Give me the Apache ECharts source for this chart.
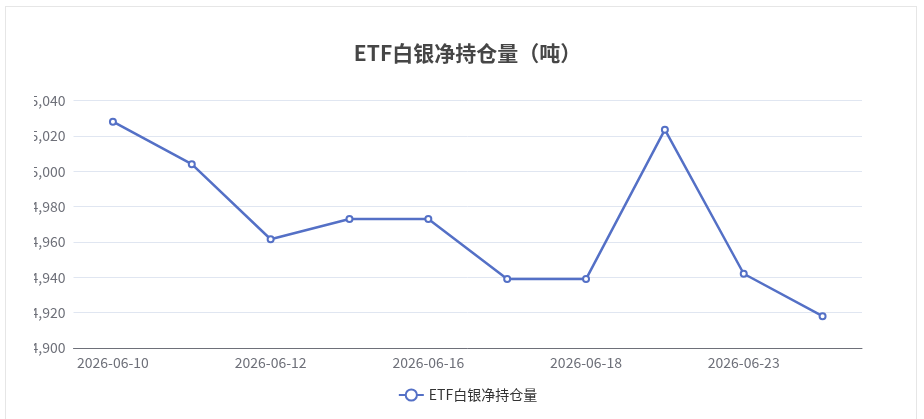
<!DOCTYPE html>
<html><head><meta charset="utf-8">
<script src="https://cdn.jsdelivr.net/npm/echarts@6/dist/echarts.min.js"></script>
<style>
html,body{margin:0;padding:0;background:#fff;overflow:hidden;}
#frame{position:absolute;left:5px;top:6px;width:910px;height:430px;border:1px solid #e6e6e6;overflow:hidden;}
#chart{position:absolute;left:28px;top:0px;width:867px;height:412px;}
</style></head>
<body>
<div id="frame"><div id="chart"></div></div>
<script>
const categories = ['2026-06-10','2026-06-11','2026-06-12','2026-06-15','2026-06-16','2026-06-17','2026-06-18','2026-06-22','2026-06-23','2026-06-24'];
const holdings = [15028, 15004, 14961.5, 14973, 14973, 14939, 14939, 15023.5, 14942, 14918];
const seriesName = 'ETF白银净持仓量';
const titleText = 'ETF白银净持仓量（吨）';
const FONT = "'Microsoft YaHei','Noto Sans CJK SC',sans-serif";

const chart = echarts.init(document.getElementById('chart'));
chart.setOption({
  textStyle: {fontFamily: FONT},
  title: {text: titleText, left: 'center', top: 31,
    textStyle: {fontSize: 21, fontWeight: 'bold', color: '#464646', fontFamily: FONT}},
  legend: {data: [seriesName], bottom: 12, left: 'center',
    textStyle: {fontSize: 14, color: '#333', fontFamily: FONT}},
  grid: {left: 39.5, right: 39, top: 93.5, bottom: 71, containLabel: false, outerBoundsMode: 'none'},
  xAxis: {type: 'category', data: categories, boundaryGap: true,
    axisTick: {show: false},
    axisLine: {lineStyle: {color: '#6E7079'}},
    axisLabel: {interval: 1, fontSize: 14, color: '#6E7079', fontFamily: FONT}},
  yAxis: {type: 'value', min: 14900, max: 15040, interval: 20,
    axisLabel: {fontSize: 14, color: '#6E7079', fontFamily: FONT,
      formatter: v => v.toLocaleString('en-US')},
    splitLine: {lineStyle: {color: '#E0E6F1'}}},
  series: [{name: seriesName, type: 'line', data: holdings,
    symbol: 'emptyCircle', symbolSize: 6,
    itemStyle: {color: '#5470c6'},
    lineStyle: {width: 2.5, color: '#5470c6'}}]
});
</script>
</body></html>
